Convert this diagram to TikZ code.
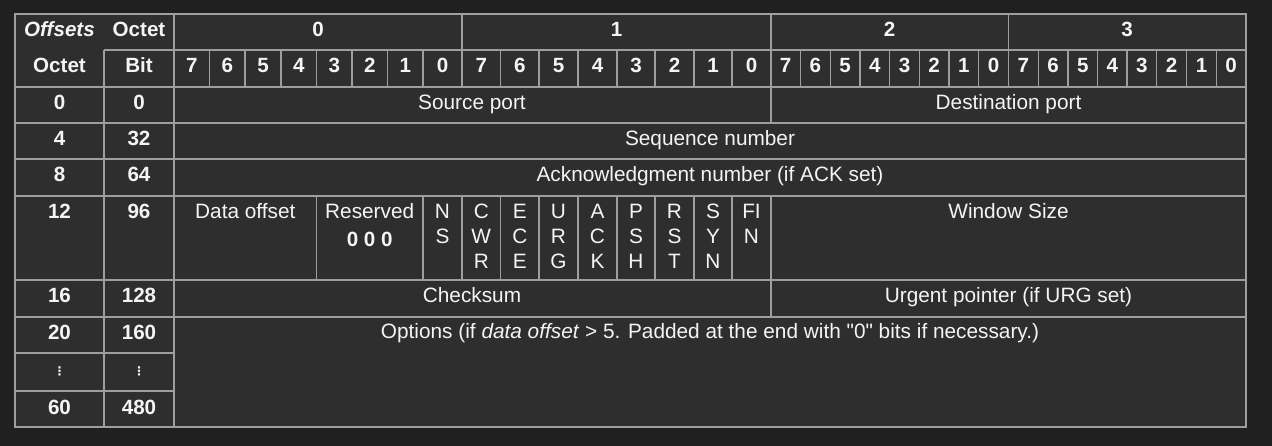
\documentclass[tikz,border=0pt]{standalone}
\usepackage{fontspec}
\setmainfont{Liberation Sans}[Ligatures=TeXOff]
\newfontfamily\dejavu{DejaVu Sans}
\definecolor{bgc}{HTML}{202020}
\definecolor{cellc}{HTML}{2E2E2E}
\definecolor{linec}{HTML}{9E9E9E}
\definecolor{txt}{HTML}{F4F4F4}
\begin{document}
\begin{tikzpicture}[x=1pt,y=-1pt,
  grid/.style={draw=linec,line width=1.3pt},
  lbl/.style={text=txt,font=\fontsize{20.8}{25}\selectfont,anchor=base,inner sep=0pt},
  blbl/.style={lbl,font=\fontsize{20.6}{25}\selectfont\bfseries},
  ilbl/.style={lbl,font=\fontsize{20.6}{25}\selectfont\bfseries\itshape},
  dots/.style={text=txt,font=\fontsize{12}{12}\selectfont\dejavu\bfseries,anchor=center,inner sep=0pt}]
\useasboundingbox (0,0) rectangle (1272,446);
\fill[bgc] (0,0) rectangle (1272,446);
\fill[cellc] (15,14) rectangle (1246,427);
% horizontal lines
\foreach \y in {87,123,159,196,280,317} \draw[grid] (15,\y) -- (1246,\y);
\draw[grid] (104,50) -- (1246,50);
\foreach \y in {353,391} \draw[grid] (15,\y) -- (174,\y);
% vertical lines
\draw[grid] (104,50) -- (104,427);
\draw[grid] (174,14) -- (174,427);
\foreach \x in {462,771,1008.3} \draw[grid] (\x,14) -- (\x,50);
\draw[grid] (771,87) -- (771,123);
\draw[grid] (771,196) -- (771,317);
\foreach \x in {316.5,423,462,500.7,539,578,617,655,694,732} \draw[grid] (\x,196) -- (\x,280);
\draw[grid] (15,14) rectangle (1246,427);
% header texts
\node[ilbl] (offsets) at (59.5,37) {Offsets};
\node[blbl] (octeth) at (139,37) {Octet};
\node[blbl] (octet) at (59.5,73) {Octet};
\node[blbl] (bit) at (139,73) {Bit};
\node[blbl] (byte0) at (318,37) {0};
\node[blbl] (byte1) at (616.5,37) {1};
\node[blbl] (byte2) at (889.6,37) {2};
\node[blbl] (byte3) at (1127.2,37) {3};
% bit numbers
\foreach \l/\r/\n [count=\k] in {174/209.5/7, 209.5/245/6, 245/281/5, 281/316.5/4, 316.5/352/3, 352/387.5/2, 387.5/423/1, 423/462/0,
462/500.7/7, 500.7/539/6, 539/578/5, 578/617/4, 617/655/3, 655/694/2, 694/732/1, 732/771/0,
771/800.3/7, 800.3/830.3/6, 830.3/860/5, 860/889.7/4, 889.7/919.3/3, 919.3/949/2, 949/978.7/1, 978.7/1008.3/0,
1008.3/1038.3/7, 1038.3/1068/6, 1068/1097.7/5, 1097.7/1127/4, 1127/1156.7/3, 1156.7/1186.7/2, 1186.7/1216.3/1, 1216.3/1246/0}{
  \draw[grid] (\l,50) -- (\l,87);
  \node[blbl] (b\k) at ({(\l+\r)/2},73) {\n};
}
% offsets column
\foreach \y/\o/\b [count=\k] in {110/0/0,146/4/32,182/8/64,218.5/12/96,303/16/128,340/20/160,414/60/480}{
  \node[blbl] (o\k) at (59.5,\y) {\o};
  \node[blbl] (bb\k) at (139,\y) {\b};
}
\node[dots] (vd1) at (59.5,371) {⋮};
\node[dots] (vd2) at (139,371) {⋮};
% fields
\node[lbl] (src) at (472,110) {Source port};
\node[lbl] (dst) at (1008.5,110) {Destination port};
\node[lbl] (seq) at (710,146) {Sequence number};
\node[lbl] (ack) at (710,182) {Acknowledgment number (if ACK set)};
\node[lbl] (doff) at (245.3,218.5) {Data offset};
\node[lbl] (res) at (369.7,218.5) {Reserved};
\node[blbl] (zeros) at (369.7,247) {0 0 0};
\foreach \x/\a/\b/\c [count=\k] in {442.5/N/S/, 481.3/C/W/R, 519.8/E/C/E, 558.5/U/R/G, 597.5/A/C/K, 636/P/S/H, 674.5/R/S/T, 713/S/Y/N, 751.5/FI/N/}{
  \node[lbl] (fa\k) at (\x,218.5) {\a};
  \node[lbl] (fb\k) at (\x,243.5) {\b};
  \node[lbl] (fc\k) at (\x,268.5) {\c};
}
\node[lbl] (win) at (1008.5,218.5) {Window Size};
\node[lbl] (chk) at (472,303) {Checksum};
\node[lbl] (urg) at (1008.5,303) {Urgent pointer (if URG set)};
\node[lbl] (opt) at (710,339) {Options (if \textit{data offset} > 5. Padded at the end with "0" bits if necessary.)};
\end{tikzpicture}
\end{document}
